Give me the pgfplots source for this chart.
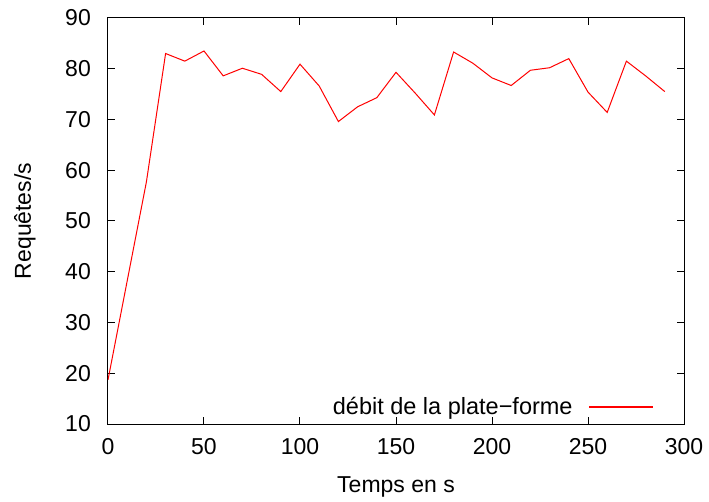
\documentclass[border=0pt]{standalone}
\usepackage{fontspec}
\setmainfont{Liberation Sans}
\usepackage{pgfplots}
\pgfplotsset{compat=1.18}
\begin{document}
\fontsize{23bp}{27bp}\selectfont
\begin{tikzpicture}
\begin{axis}[
  at={(0,0)}, anchor=south west,
  scale only axis, width=576bp, height=406bp,
  xmin=0, xmax=300, ymin=10, ymax=90,
  xtick={0,50,100,150,200,250,300},
  ytick={10,20,30,40,50,60,70,80,90},
  tick align=inside,
  major tick length=7bp,
  axis line style={black, line width=1bp},
  every tick/.style={black, line width=1bp},
  /pgf/number format/assume math mode=true,
  tick label style={font=\fontsize{23bp}{27bp}\selectfont},
  label style={font=\fontsize{23bp}{27bp}\selectfont},
  xticklabel style={anchor=base, inner sep=0pt, yshift=-30bp},
  yticklabel style={anchor=east, inner sep=0pt, xshift=-17bp},
  xlabel={Temps en s}, ylabel={Requêtes/s},
  xlabel style={at={(axis description cs:0.5,-0.1675)}, anchor=base, inner sep=0pt},
  ylabel style={at={(axis description cs:-0.1337,0.5)}, anchor=base, inner sep=0pt},
  legend plot pos=right,
  legend image code/.code={\draw[draw=red, color=red, line width=1.2bp] (0bp,0.5bp) -- (64bp,0.5bp);},
  legend style={at={(axis description cs:1,0)}, anchor=south east,
    xshift=-30bp, yshift=6bp, draw=none, fill=none, inner sep=0pt,
    nodes={inner sep=0pt}, /tikz/column sep=16bp,
    font=\fontsize{23.5bp}{27bp}\selectfont},
]
\addplot[red, line width=1bp, mark=none] coordinates {
(0,18.7) (10,38.2) (20,57.7) (30,83.0) (40,81.5) (50,83.5) (60,78.6)
(70,80.1) (80,78.9) (90,75.5) (100,80.9) (110,76.6) (120,69.6) (130,72.5)
(140,74.3) (150,79.3) (160,75.2) (170,70.9) (180,83.3) (190,81.1) (200,78.2)
(210,76.7) (220,79.7) (230,80.2) (240,82.0) (250,75.4) (260,71.4) (270,81.5)
(280,78.6) (290,75.5)
};
\addlegendentry{débit de la plate−forme}
\end{axis}
\pgfresetboundingbox
\path[use as bounding box] (-108bp,-78bp) rectangle (601bp,424bp);
\end{tikzpicture}
\end{document}
